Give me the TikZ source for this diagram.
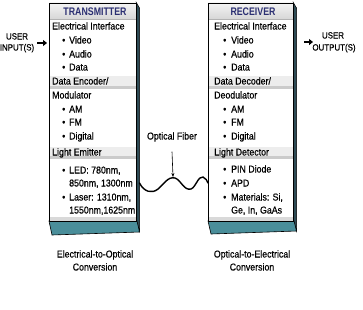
\documentclass[tikz,border=0pt]{standalone}
\usepackage{fontspec}
\setmainfont{Liberation Sans}[FakeStretch=0.88, FakeBold=0.5]
\newfontfamily\titlefont{Liberation Sans}[FakeStretch=0.8]
\usetikzlibrary{arrows.meta}
\definecolor{navy}{HTML}{2B2F72}
\definecolor{teal3d}{HTML}{4A8E9A}
\definecolor{side3d}{HTML}{2E4B55}
\definecolor{bandgray}{HTML}{EDEDED}
\definecolor{stripegray}{HTML}{CBCBCB}
\tikzset{
  txt/.style={anchor=west, inner sep=0pt, text height=7pt, text depth=2pt, font=\fontsize{10}{12}\selectfont},
  ctxt/.style={inner sep=0pt, text height=7pt, text depth=2pt, font=\fontsize{10}{12}\selectfont},
  title/.style={inner sep=0pt, text height=8pt, text depth=0pt, text=navy, font=\titlefont\bfseries\fontsize{11}{13}\selectfont},
  front/.style={draw=black, line width=0.7pt, fill=white, inner sep=0pt},
  sidebar/.style={fill=side3d, draw=black, line width=0.5pt},
  base/.style={fill=teal3d, draw=black, line width=0.6pt},
  band/.style={fill=bandgray, draw=none},
  stripe/.style={fill=stripegray, draw=none},
  fatarrow/.style={line width=2pt, -{Triangle[length=4pt,width=6pt]}},
  thinarrow/.style={line width=0.6pt, -{Stealth[length=4pt,width=3pt]}},
  fiber/.style={line width=1.4pt, line cap=round}
}
\begin{document}
\begin{tikzpicture}[x=1pt,y=-1pt]
\useasboundingbox (0,0) rectangle (363,309);
\fill[white] (0,0) rectangle (363,309);

% ---------- Transmitter box ----------
\fill[sidebar] (136,2) -- (139.5,8) -- (139.5,231) -- (136.5,221) -- cycle;
\draw[base] (49,221) -- (137,221) -- (139.5,232) -- (52,235) -- cycle;
\node[front, minimum width=87pt, minimum height=218pt] (tx) at (92.5,112) {};
\shade[top color=gray!8, bottom color=gray!32] (49.4,2.4) rectangle (135.6,19);
\draw[gray!60, line width=0.6pt] (49.4,19) -- (135.6,19);
\fill[gray!30] (49.4,216.5) rectangle (135.6,220.6);
\fill[band] (49.4,76) rectangle (135.6,89);
\fill[stripe] (49.4,85.5) rectangle (135.6,89);
\fill[band] (49.4,147) rectangle (135.6,159);
\fill[stripe] (49.4,155.5) rectangle (135.6,159);
\draw[black, line width=0.7pt] (49,3) rectangle (136,221);

\node[title] (txtitle) at (95,11) {TRANSMITTER};
\node[txt] (txh1) at (52,27) {Electrical Interface};
\node[txt] (txb1) at (62,41) {•}; \node[txt] (txv) at (69,41) {Video};
\node[txt] (txb2) at (62,55) {•}; \node[txt] (txa) at (69,55) {Audio};
\node[txt] (txb3) at (62,68) {•}; \node[txt] (txd) at (69,68) {Data};
\node[txt] (txh2) at (52,82) {Data Encoder/};
\node[txt] (txh2b) at (52,96) {Modulator};
\node[txt] (txb4) at (62,110) {•}; \node[txt] (txam) at (69,110) {AM};
\node[txt] (txb5) at (62,123) {•}; \node[txt] (txfm) at (69,123) {FM};
\node[txt] (txb6) at (62,137) {•}; \node[txt] (txdig) at (69,137) {Digital};
\node[txt] (txh3) at (52,153) {Light Emitter};
\node[txt] (txb7) at (62,171) {•}; \node[txt] (txled) at (69,171) {LED: 780nm,};
\node[txt] (txled2) at (69,184) {850nm, 1300nm};
\node[txt] (txb8) at (62,198) {•}; \node[txt] (txlas) at (69,198) {Laser: 1310nm,};
\node[txt] (txlas2) at (69,211) {1550nm,1625nm};

% ---------- Receiver box ----------
\fill[sidebar] (293,2) -- (296.5,8) -- (296.5,231) -- (293.5,221) -- cycle;
\draw[base] (208,221) -- (294,221) -- (296.5,231) -- (211,234) -- cycle;
\node[front, minimum width=85pt, minimum height=218pt] (rx) at (250.5,112) {};
\shade[top color=gray!8, bottom color=gray!32] (208.4,2.4) rectangle (292.6,19);
\draw[gray!60, line width=0.6pt] (208.4,19) -- (292.6,19);
\fill[gray!30] (208.4,216.5) rectangle (292.6,220.6);
\fill[band] (208.4,76) rectangle (292.6,89);
\fill[stripe] (208.4,85.5) rectangle (292.6,89);
\fill[band] (208.4,147) rectangle (292.6,159);
\fill[stripe] (208.4,155.5) rectangle (292.6,159);
\draw[black, line width=0.7pt] (208,3) rectangle (293,221);

\node[title] (rxtitle) at (253,11) {RECEIVER};
\node[txt] (rxh1) at (214,27) {Electrical Interface};
\node[txt] (rxb1) at (223,41) {•}; \node[txt] (rxv) at (231,41) {Video};
\node[txt] (rxb2) at (223,55) {•}; \node[txt] (rxa) at (231,55) {Audio};
\node[txt] (rxb3) at (223,68) {•}; \node[txt] (rxd) at (231,68) {Data};
\node[txt] (rxh2) at (214,82) {Data Decoder/};
\node[txt] (rxh2b) at (214,96) {Deodulator};
\node[txt] (rxb4) at (223,110) {•}; \node[txt] (rxam) at (231,110) {AM};
\node[txt] (rxb5) at (223,123) {•}; \node[txt] (rxfm) at (231,123) {FM};
\node[txt] (rxb6) at (223,137) {•}; \node[txt] (rxdig) at (231,137) {Digital};
\node[txt] (rxh3) at (214,153) {Light Detector};
\node[txt] (rxb7) at (223,170) {•}; \node[txt] (rxpin) at (231,170) {PIN Diode};
\node[txt] (rxb8) at (223,184) {•}; \node[txt] (rxapd) at (231,184) {APD};
\node[txt] (rxb9) at (223,198) {•}; \node[txt] (rxmat) at (231,198) {Materials: Si,};
\node[txt] (rxmat2) at (231,211) {Ge, In, GaAs};

% ---------- User input / output ----------
\node[ctxt, font=\fontsize{9}{11}\selectfont] (uin1) at (17,37) {USER};
\node[ctxt, font=\fontsize{9}{11}\selectfont] (uin2) at (17,48) {INPUT(S)};
\coordinate (uinstart) at (37,43);
\coordinate (uinend) at (47,43);
\draw[fatarrow] (uinstart) -- (uinend);

\coordinate (uoutstart) at (304,42);
\coordinate (uoutend) at (313,42);
\draw[fatarrow] (uoutstart) -- (uoutend);
\node[ctxt, font=\fontsize{9}{11}\selectfont] (uout1) at (333,36) {USER};
\node[ctxt, font=\fontsize{9}{11}\selectfont] (uout2) at (334,48) {OUTPUT(S)};

% ---------- Optical fiber ----------
\node[ctxt] (fibertxt) at (172,137) {Optical Fiber};
\coordinate (wavea) at (139.5,183);
\coordinate (waveb) at (208,183);
\coordinate (wavetip) at (173,177);
\draw[fiber] (wavea) .. controls (144,192) and (152,194) .. (158,189)
  .. controls (163,185) and (168,176) .. (175,178)
  .. controls (181,180) and (184,191) .. (191,189)
  .. controls (196,187) and (198,176) .. (203,177)
  .. controls (206,178) and (207,181) .. (waveb);
\draw[thinarrow] ([yshift=-10pt]fibertxt.south) -- (wavetip);

% ---------- Bottom labels ----------
\node[ctxt] (eo1) at (95,255) {Electrical-to-Optical};
\node[ctxt] (eo2) at (95,268) {Conversion};
\node[ctxt] (oe1) at (252,255) {Optical-to-Electrical};
\node[ctxt] (oe2) at (252,268) {Conversion};
\end{tikzpicture}
\end{document}
